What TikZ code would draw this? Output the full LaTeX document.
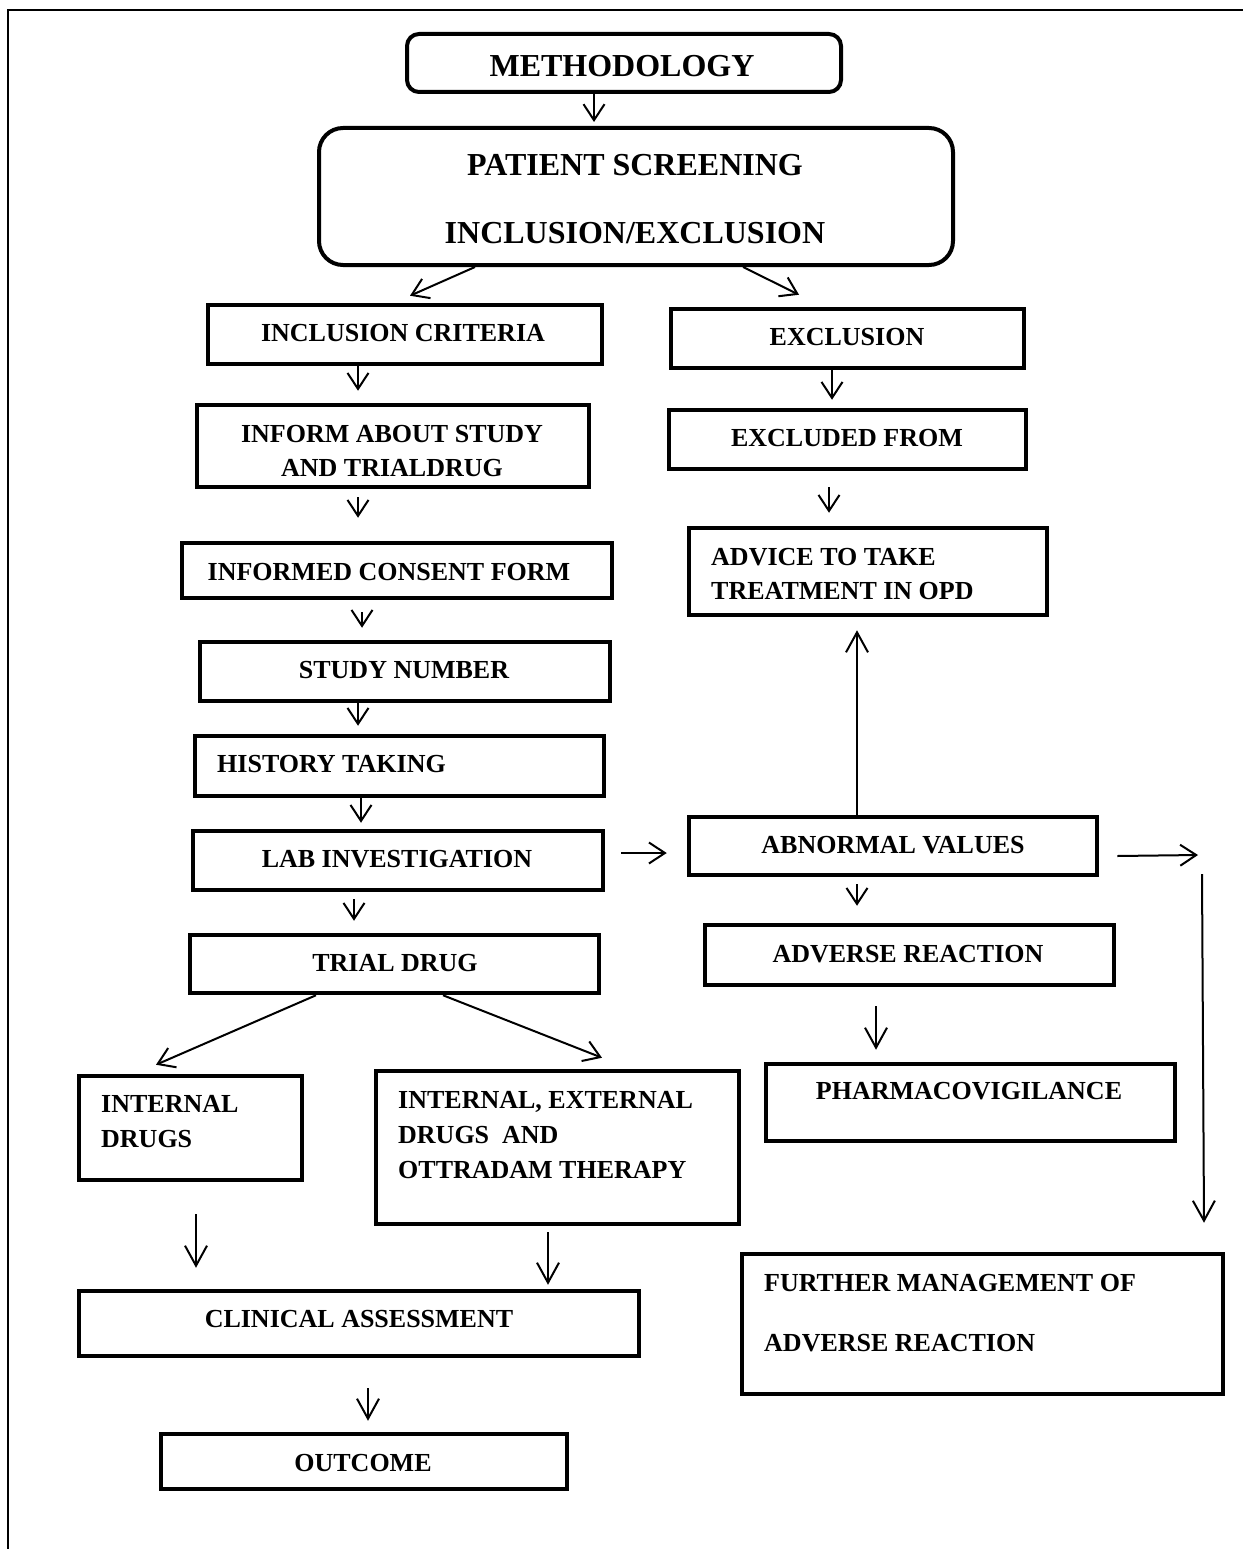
\documentclass[tikz,border=0pt]{standalone}
\usepackage{fontspec}
\setmainfont{Liberation Serif}
\usetikzlibrary{arrows.meta}

\begin{document}
\begin{tikzpicture}[x=1pt,y=-1pt,
  box/.style={draw, line width=4.5pt, rectangle, inner sep=0pt},
  rbox/.style={draw, line width=4pt, rectangle, rounded corners=#1, inner sep=0pt},
  txt/.style={font=\bfseries\fontsize{26}{34}\selectfont, inner sep=0pt},
  bigtxt/.style={font=\bfseries\fontsize{32}{38}\selectfont, inner sep=0pt, align=center},
  arr/.style={-{Straight Barb[length=16pt,width=21pt]}, line width=2pt},
  longarr/.style={-{Straight Barb[length=20pt,width=22pt]}, line width=2pt}]
\useasboundingbox (0,0) rectangle (1243,1549);

% page frame
\draw[line width=2pt] (8,1549) -- (8,10) -- (1243,10);

% top
\node[rbox=12, minimum width=434pt, minimum height=58pt] (meth) at (624,63) {};
\node[rbox=24, minimum width=634pt, minimum height=137pt] (pat) at (636,196.5) {};
\node[bigtxt] (t-meth) at (622,66) {METHODOLOGY};
\node[bigtxt] (t-pat) at (635,199) {PATIENT SCREENING\\[30pt]INCLUSION/EXCLUSION};

% left column
\node[box, minimum width=394pt, minimum height=59pt] (incl) at (405,334.5) {};
\node[box, minimum width=392pt, minimum height=82pt] (inform) at (393,446) {};
\node[box, minimum width=430pt, minimum height=55pt] (consent) at (397,570.5) {};
\node[box, minimum width=410pt, minimum height=59pt] (study) at (405,671.5) {};
\node[box, minimum width=409pt, minimum height=60pt] (hist) at (399.5,766) {};
\node[box, minimum width=410pt, minimum height=59pt] (lab) at (398,860.5) {};
\node[box, minimum width=409pt, minimum height=58pt] (trial) at (394.5,964) {};
\node[box, minimum width=223pt, minimum height=104pt] (intdrug) at (190.5,1128) {};
\node[box, minimum width=363pt, minimum height=153pt] (intext) at (557.5,1147.5) {};
\node[box, minimum width=560pt, minimum height=65pt] (clin) at (359,1323.5) {};
\node[box, minimum width=406pt, minimum height=55pt] (outc) at (364,1461.5) {};

\node[txt] (t-incl) at (403,333) {INCLUSION CRITERIA};
\node[txt, align=center] (t-inform) at (392,451) {INFORM ABOUT STUDY\\AND TRIALDRUG};
\node[txt] (t-consent) at (389,572) {INFORMED CONSENT FORM};
\node[txt] (t-study) at (404,670) {STUDY NUMBER};
\node[txt, anchor=west] (t-hist) at (217,764) {HISTORY TAKING};
\node[txt] (t-lab) at (397,859) {LAB INVESTIGATION};
\node[txt] (t-trial) at (395,963) {TRIAL DRUG};
\node[txt, anchor=west, align=left] (t-intdrug) at (101,1121.5) {INTERNAL\\[1pt]DRUGS};
\node[txt, anchor=west, align=left] (t-intext) at (398,1135) {INTERNAL, EXTERNAL\\[1pt]DRUGS\ \ AND\\[1pt]OTTRADAM THERAPY};
\node[txt] (t-clin) at (359,1319) {CLINICAL ASSESSMENT};
\node[txt] (t-outc) at (363,1463) {OUTCOME};

% right column
\node[box, minimum width=353pt, minimum height=59pt] (excl) at (847.5,338.5) {};
\node[box, minimum width=357pt, minimum height=59pt] (exfrom) at (847.5,439.5) {};
\node[box, minimum width=358pt, minimum height=87pt] (advice) at (868,571.5) {};
\node[box, minimum width=408pt, minimum height=58pt] (abn) at (893,846) {};
\node[box, minimum width=409pt, minimum height=60pt] (adv) at (909.5,955) {};
\node[box, minimum width=409pt, minimum height=77pt] (pharma) at (970.5,1102.5) {};
\node[box, minimum width=481pt, minimum height=140pt] (further) at (982.5,1324) {};

\node[txt] (t-excl) at (847,337) {EXCLUSION};
\node[txt] (t-exfrom) at (847,438) {EXCLUDED FROM};
\node[txt, anchor=west, align=left] (t-advice) at (711,574) {ADVICE TO TAKE\\TREATMENT IN OPD};
\node[txt] (t-abn) at (893,845) {ABNORMAL VALUES};
\node[txt] (t-adv) at (908,954) {ADVERSE REACTION};
\node[txt] (t-pharma) at (969,1091) {PHARMACOVIGILANCE};
\node[txt, anchor=west, align=left] (t-further) at (764,1313) {FURTHER MANAGEMENT OF\\[26pt]ADVERSE REACTION};

\coordinate (turn) at (1198,855);
\coordinate (drop) at (1202,874);

% arrows
\draw[arr] ([xshift=-30pt]meth.south) -- ([xshift=-42pt,yshift=4pt]pat.north);
\draw[arr] ([xshift=-161pt]pat.south) -- ([xshift=5pt,yshift=7pt]incl.north);
\draw[arr] ([xshift=107pt]pat.south) -- ([xshift=-48.5pt,yshift=12pt]excl.north);
\draw[arr] ([xshift=-47pt]incl.south) -- ([xshift=-35pt,yshift=12pt]inform.north);
\draw[arr] ([xshift=-35pt,yshift=-8pt]inform.south) -- ([xshift=-39pt,yshift=23pt]consent.north);
\draw[arr] ([xshift=-35pt,yshift=-12pt]consent.south) -- ([xshift=-43pt,yshift=12pt]study.north);
\draw[arr] ([xshift=-47pt]study.south) -- ([xshift=-41.5pt,yshift=8pt]hist.north);
\draw[arr] ([xshift=-38.5pt]hist.south) -- ([xshift=-37pt,yshift=6pt]lab.north);
\draw[arr] ([xshift=-44pt,yshift=-7pt]lab.south) -- ([xshift=-40.5pt,yshift=12pt]trial.north);
\draw[arr] ([xshift=-78.5pt]trial.south) -- ([xshift=-34.5pt,yshift=9pt]intdrug.north);
\draw[arr] ([xshift=48.5pt]trial.south) -- ([xshift=44.5pt,yshift=11pt]intext.north);
\draw[longarr] ([xshift=5.5pt,yshift=-32pt]intdrug.south) -- ([xshift=-163pt,yshift=21pt]clin.north);
\draw[longarr] ([xshift=-9.5pt,yshift=-6pt]intext.south) -- ([xshift=189pt,yshift=4pt]clin.north);
\draw[longarr] ([xshift=9pt,yshift=-30pt]clin.south) -- ([xshift=4pt,yshift=11pt]outc.north);

\draw[arr] ([xshift=-15.5pt]excl.south) -- ([xshift=-15.5pt,yshift=8pt]exfrom.north);
\draw[arr] ([xshift=-18.5pt,yshift=-16pt]exfrom.south) -- ([xshift=-39pt,yshift=13pt]advice.north);
\draw[longarr] ([xshift=-36pt]abn.north) -- ([xshift=-11pt,yshift=-13pt]advice.south);
\draw[arr] ([xshift=16pt,yshift=7.5pt]lab.east) -- ([xshift=-20pt,yshift=-7pt]abn.west);
\draw[arr] ([xshift=18pt,yshift=-10pt]abn.east) -- (turn);
\draw[longarr] (drop) -- ([xshift=221.5pt,yshift=29pt]further.north);
\draw[arr] ([xshift=-36pt,yshift=-7pt]abn.south) -- ([xshift=-52.5pt,yshift=17pt]adv.north);
\draw[longarr] ([xshift=-33.5pt,yshift=-19pt]adv.south) -- ([xshift=-94.5pt,yshift=12pt]pharma.north);

\end{tikzpicture}
\end{document}
